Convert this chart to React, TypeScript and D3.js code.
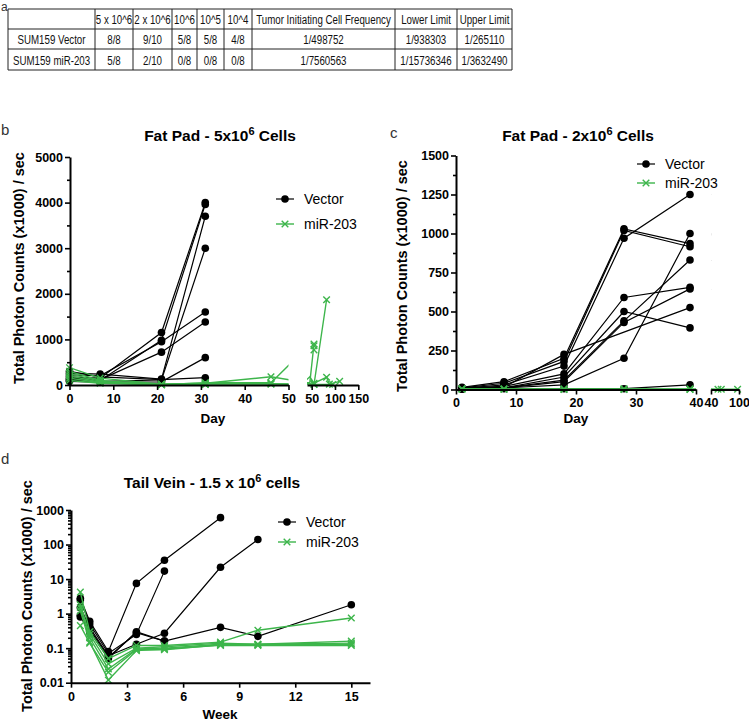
import React, { useEffect, useRef } from "react";
import * as d3 from "d3";

type Pt = [number, number];

const GREEN = "#3db54b";
const ARIAL = "'Liberation Sans', Arial, Helvetica, sans-serif";

// ---- table (panel a)
const tableHeader = ["", "5 x 10^6", "2 x 10^6", "10^6", "10^5", "10^4", "Tumor Initiating Cell Frequency", "Lower Limit", "Upper Limit"];
const tableVector = ["SUM159 Vector", "8/8", "9/10", "5/8", "5/8", "4/8", "1/498752", "1/938303", "1/265110"];
const tableMir = ["SUM159 miR-203", "5/8", "2/10", "0/8", "0/8", "0/8", "1/7560563", "1/15736346", "1/3632490"];

// ---- panel b: fat pad 5x10^6, [day, counts]
const fatPad5Vector: Pt[][] = [
  [[0, 180], [7, 150], [21, 1150], [31, 4000]],
  [[0, 120], [7, 100], [21, 980], [31, 3960]],
  [[0, 260], [7, 240], [21, 130], [31, 3700]],
  [[0, 100], [7, 80], [21, 110], [31, 3000]],
  [[0, 220], [7, 200], [21, 950], [31, 1600]],
  [[0, 150], [7, 120], [21, 720], [31, 1380]],
  [[0, 80], [7, 60], [21, 70], [31, 600]],
  [[0, 300], [7, 180], [21, 120], [31, 160]],
];
const fatPad5Mir: Pt[][] = [
  [[0, 380], [7, 150], [21, 20], [31, 40], [46, 180], [55, 40], [82, 170], [88, 20], [110, 80]],
  [[0, 300], [7, 100], [21, 5], [31, 50], [46, 50], [55, 900]],
  [[0, 250], [7, 80], [21, 10], [31, 30], [46, 30], [55, 20], [95, 10]],
  [[0, 200], [7, 60], [21, 15], [31, 20], [46, 20], [55, 10], [82, 1870]],
  [[0, 150], [7, 50], [21, 5], [31, 10]],
  [[0, 100], [7, 40], [21, 5], [31, 10]],
  [[55, 860]],
  [[55, 770]],
];
const fatPad5YTicks = [0, 1000, 2000, 3000, 4000, 5000];
const fatPad5XTicks1 = [0, 10, 20, 30, 40, 50];
const fatPad5XTicks2 = [50, 100, 150];

// ---- panel c: fat pad 2x10^6
const fatPad2Vector: Pt[][] = [
  [[1, 14], [8, 50], [18, 200], [28, 1030], [39, 935]],
  [[1, 10], [8, 40], [18, 180], [28, 1020], [39, 915]],
  [[1, 8], [8, 30], [18, 150], [28, 970], [39, 1250]],
  [[1, 10], [8, 20], [18, 100], [28, 590], [39, 655]],
  [[1, 5], [8, 10], [18, 80], [28, 500], [39, 395]],
  [[1, 5], [8, 10], [18, 60], [28, 440], [39, 830]],
  [[1, 5], [8, 10], [18, 50], [28, 430], [39, 645]],
  [[1, 5], [8, 15], [18, 225], [39, 525]],
  [[1, 5], [8, 10], [18, 30], [28, 200], [39, 1000]],
  [[1, 3], [8, 5], [18, 5], [28, 5], [39, 30]],
];
const fatPad2Mir: Pt[][] = [
  [[1, 5], [8, 4], [18, 3], [28, 4], [39, 3], [55, 2], [62, 2], [97, 2]],
  [[1, 3], [8, 2], [18, 2], [28, 2], [39, 2]],
  [[1, 2], [8, 2], [18, 1], [28, 1], [39, 1]],
];
const fatPad2YTicks = [0, 250, 500, 750, 1000, 1250, 1500];
const fatPad2XTicks1 = [0, 10, 20, 30, 40];
const fatPad2XTicks2 = [40, 100];

// ---- panel d: tail vein, [week, counts] (log)
const tailVector: Pt[][] = [
  [[0.5, 2.8], [1, 0.6], [2, 0.08], [3.5, 7.5], [5, 35], [8, 600]],
  [[0.5, 2.5], [1, 0.5], [2, 0.07], [3.5, 0.25], [5, 17]],
  [[0.5, 1.5], [1, 0.4], [2, 0.06], [3.5, 0.13], [5, 0.27], [8, 22], [10, 140]],
  [[0.5, 0.9], [1, 0.35], [2, 0.055], [3.5, 0.28], [5, 0.16], [8, 0.4], [10, 0.22], [15, 1.8]],
  [[0.5, 0.8], [1, 0.3], [2, 0.05], [3.5, 0.3], [5, 0.16]],
];
const tailMir: Pt[][] = [
  [[0.5, 4.2], [1, 0.3], [2, 0.05], [3.5, 0.12], [5, 0.12], [8, 0.15], [10, 0.33], [15, 0.75]],
  [[0.5, 1.8], [1, 0.25], [2, 0.035], [3.5, 0.1], [5, 0.11], [8, 0.14], [10, 0.13], [15, 0.16]],
  [[0.5, 1.5], [1, 0.2], [2, 0.025], [3.5, 0.095], [5, 0.1], [8, 0.13], [10, 0.13], [15, 0.14]],
  [[0.5, 1.2], [1, 0.15], [2, 0.012], [3.5, 0.085], [5, 0.095], [8, 0.12], [10, 0.12], [15, 0.12]],
  [[0.5, 0.45], [1, 0.14], [2, 0.02], [3.5, 0.09], [5, 0.09], [8, 0.125], [10, 0.125], [15, 0.13]],
];
const tailYTicks = [0.01, 0.1, 1, 10, 100, 1000];
const tailXTicks = [0, 3, 6, 9, 12, 15];

type Sel = d3.Selection<any, unknown, null, undefined>;
type Seg = { x: d3.ScaleLinear<number, number>; ticks: number[]; dom: [number, number]; clip: [number, number] };

function styleAxis(g: Sel, size = 12.5) {
  g.attr("font-family", ARIAL).attr("font-weight", "bold").attr("font-size", size);
  g.select(".domain").attr("stroke", "#000").attr("stroke-width", 2);
  g.selectAll(".tick line").attr("stroke", "#000").attr("stroke-width", 1.6);
  g.selectAll(".tick text").attr("fill", "#000");
}

function marker(g: Sel, cx: number, cy: number, kind: "dot" | "x") {
  if (kind === "dot") {
    g.append("circle").attr("cx", cx).attr("cy", cy).attr("r", 3.8).attr("fill", "#000");
  } else {
    const s = 3.3;
    g.append("path")
      .attr("d", `M${cx - s},${cy - s}L${cx + s},${cy + s}M${cx - s},${cy + s}L${cx + s},${cy - s}`)
      .attr("stroke", GREEN).attr("stroke-width", 1.4).attr("fill", "none");
  }
}

function drawSeries(svg: Sel, id: string, segs: Seg[], y: any, vector: Pt[][], mir: Pt[][], top: number, bottom: number) {
  const groups: [Pt[][], string, "dot" | "x", number][] = [
    [vector, "#000", "dot", 1.2],
    [mir, GREEN, "x", 1.4],
  ];
  segs.forEach((s, i) => {
    const cid = `${id}-clip-${i}`;
    svg.append("clipPath").attr("id", cid).append("rect")
      .attr("x", s.clip[0]).attr("y", top - 20).attr("width", s.clip[1] - s.clip[0]).attr("height", bottom - top + 30);
    groups.forEach(([series, color, kind, w]) => {
      const line = d3.line<Pt>().x((d) => s.x(d[0])).y((d) => y(d[1]));
      const lg = svg.append("g").attr("clip-path", `url(#${cid})`);
      series.forEach((ser) => {
        lg.append("path").attr("d", line(ser)).attr("fill", "none").attr("stroke", color).attr("stroke-width", w);
      });
      const mg = svg.append("g");
      series.forEach((ser) => {
        ser.filter((d) => d[0] >= s.dom[0] && d[0] <= s.dom[1]).forEach((d) => marker(mg, s.x(d[0]), y(d[1]), kind));
      });
    });
  });
}

function legend(svg: Sel, x: number, y1: number, y2: number) {
  const g = svg.append("g");
  g.append("line").attr("x1", x).attr("x2", x + 18).attr("y1", y1).attr("y2", y1).attr("stroke", "#000").attr("stroke-width", 1.2);
  marker(g, x + 9, y1, "dot");
  g.append("line").attr("x1", x).attr("x2", x + 18).attr("y1", y2).attr("y2", y2).attr("stroke", GREEN).attr("stroke-width", 1.4);
  marker(g, x + 9, y2, "x");
  g.append("text").attr("x", x + 28).attr("y", y1 + 5).attr("font-family", ARIAL).attr("font-size", 14).text("Vector");
  g.append("text").attr("x", x + 28).attr("y", y2 + 5).attr("font-family", ARIAL).attr("font-size", 14).text("miR-203");
}

function title(svg: Sel, cx: number, y: number, pre: string, post: string) {
  const t = svg.append("text").attr("x", cx).attr("y", y).attr("text-anchor", "middle")
    .attr("font-family", ARIAL).attr("font-weight", "bold").attr("font-size", 15.5);
  t.append("tspan").text(pre);
  t.append("tspan").attr("dy", -6).attr("font-size", 11).text("6");
  t.append("tspan").attr("dy", 6).text(post);
}

function panelLetter(svg: Sel, x: number, y: number, s: string) {
  svg.append("text").attr("x", x).attr("y", y).attr("font-family", ARIAL).attr("font-size", 15).attr("fill", "#333").text(s);
}

function yTitle(svg: Sel, x: number, cy: number) {
  svg.append("text").attr("transform", `translate(${x},${cy}) rotate(-90)`).attr("text-anchor", "middle")
    .attr("font-family", ARIAL).attr("font-weight", "bold").attr("font-size", 14.5).text("Total Photon Counts (x1000) / sec");
}

function xTitle(svg: Sel, x: number, y: number, s: string) {
  svg.append("text").attr("x", x).attr("y", y).attr("text-anchor", "middle")
    .attr("font-family", ARIAL).attr("font-weight", "bold").attr("font-size", 13.5).text(s);
}

function linearPanel(svg: Sel, id: string, axisX: number, y: d3.ScaleLinear<number, number>, yTicks: number[], segs: Seg[], vector: Pt[][], mir: Pt[][]) {
  const [bottom, top] = y.range();
  drawSeries(svg, id, segs, y, vector, mir, top, bottom);
  const minor = d3.pairs(yTicks).map(([a, b]) => (a + b) / 2);
  const gm = svg.append("g").attr("transform", `translate(${axisX},0)`)
    .call(d3.axisLeft(y).tickValues(minor).tickSize(3).tickSizeOuter(0).tickFormat(() => ""));
  styleAxis(gm);
  gm.select(".domain").remove();
  const gy = svg.append("g").attr("transform", `translate(${axisX},0)`)
    .call(d3.axisLeft(y).tickValues(yTicks).tickSize(5).tickSizeOuter(0).tickPadding(2).tickFormat(d3.format("d")));
  styleAxis(gy);
  segs.forEach((s) => {
    const gx = svg.append("g").attr("transform", `translate(0,${bottom})`)
      .call(d3.axisBottom(s.x).tickValues(s.ticks).tickSize(5).tickSizeOuter(0).tickPadding(4).tickFormat(d3.format("d")));
    styleAxis(gx);
  });
}

export default function App() {
  const ref = useRef<SVGSVGElement>(null);

  useEffect(() => {
    const svg = d3.select(ref.current) as Sel;
    svg.selectAll("*").remove();
    svg.append("rect").attr("width", 749).attr("height", 721).attr("fill", "#fff");

    // ---- a: table
    svg.append("text").attr("x", 1).attr("y", 11).attr("font-family", ARIAL).attr("font-size", 12).attr("fill", "#333").text("a");
    const colEdges = [8, 95, 133, 172, 197, 224, 252, 395, 457, 512];
    const rowEdges = [9, 29, 49, 70];
    const tg = svg.append("g").attr("stroke", "#222").attr("stroke-width", 1);
    colEdges.forEach((x) => tg.append("line").attr("x1", x).attr("x2", x).attr("y1", rowEdges[0]).attr("y2", rowEdges[3]));
    rowEdges.forEach((y) => tg.append("line").attr("x1", colEdges[0]).attr("x2", colEdges[9]).attr("y1", y).attr("y2", y));
    [tableHeader, tableVector, tableMir].forEach((row, r) => {
      row.forEach((cell, c) => {
        const cx = (colEdges[c] + colEdges[c + 1]) / 2;
        const cy = (rowEdges[r] + rowEdges[r + 1]) / 2 + 5;
        svg.append("text").attr("transform", `translate(${cx},${cy}) scale(0.72,1)`)
          .attr("text-anchor", "middle").attr("font-family", ARIAL).attr("font-size", 13.5).attr("fill", "#111").text(cell);
      });
    });

    // ---- b
    panelLetter(svg, 1, 135, "b");
    title(svg, 220, 141, "Fat Pad - 5x10", " Cells");
    const yb = d3.scaleLinear().domain([0, 5000]).range([385, 157]);
    linearPanel(svg, "b", 70, yb, fatPad5YTicks, [
      { x: d3.scaleLinear().domain([0, 50]).range([69.5, 288.5]), ticks: fatPad5XTicks1, dom: [0, 50], clip: [60, 288.5] },
      { x: d3.scaleLinear().domain([40, 150]).range([307, 358.3]), ticks: fatPad5XTicks2, dom: [50, 150], clip: [307, 380] },
    ], fatPad5Vector, fatPad5Mir);
    yTitle(svg, 24, 268);
    xTitle(svg, 213, 423, "Day");
    legend(svg, 276, 199, 224);

    // ---- c
    panelLetter(svg, 390, 138, "c");
    title(svg, 578, 141, "Fat Pad - 2x10", " Cells");
    const yc = d3.scaleLinear().domain([0, 1500]).range([389.5, 155.5]);
    linearPanel(svg, "c", 456, yc, fatPad2YTicks, [
      { x: d3.scaleLinear().domain([0, 40]).range([456, 696]), ticks: fatPad2XTicks1, dom: [0, 40], clip: [440, 696] },
      { x: d3.scaleLinear().domain([40, 100]).range([711, 739]), ticks: fatPad2XTicks2, dom: [40, 100], clip: [711, 749] },
    ], fatPad2Vector, fatPad2Mir);
    yTitle(svg, 407, 276);
    xTitle(svg, 576, 423, "Day");
    legend(svg, 637, 164, 183);

    // ---- d
    panelLetter(svg, 1, 464, "d");
    title(svg, 212, 488, "Tail Vein - 1.5 x 10", " cells");
    const yd = d3.scaleLog().domain([0.01, 1000]).range([682.7, 510]);
    const xd = d3.scaleLinear().domain([0, 16]).range([71, 370]);
    drawSeries(svg, "d", [{ x: xd, ticks: tailXTicks, dom: [0, 16], clip: [60, 380] }], yd, tailVector, tailMir, 510, 682.7);
    const minorD: number[] = [];
    tailYTicks.slice(0, -1).forEach((t) => d3.range(2, 10).forEach((m) => minorD.push(t * m)));
    const gdm = svg.append("g").attr("transform", "translate(71,0)")
      .call(d3.axisLeft(yd).tickValues(minorD).tickSize(3).tickSizeOuter(0).tickFormat(() => ""));
    styleAxis(gdm);
    gdm.select(".domain").remove();
    const gdy = svg.append("g").attr("transform", "translate(71,0)")
      .call(d3.axisLeft(yd).tickValues(tailYTicks).tickSize(5).tickSizeOuter(0).tickPadding(2).tickFormat((d) => String(d)));
    styleAxis(gdy);
    const gdx = svg.append("g").attr("transform", "translate(0,682.7)")
      .call(d3.axisBottom(xd).tickValues(tailXTicks).tickSize(5).tickSizeOuter(0).tickPadding(4));
    styleAxis(gdx);
    yTitle(svg, 32, 596);
    xTitle(svg, 220, 719, "Week");
    legend(svg, 278, 522, 542);
  }, []);

  return <svg ref={ref} width={749} height={721} style={{ position: "absolute", left: 0, top: 0 }} />;
}
